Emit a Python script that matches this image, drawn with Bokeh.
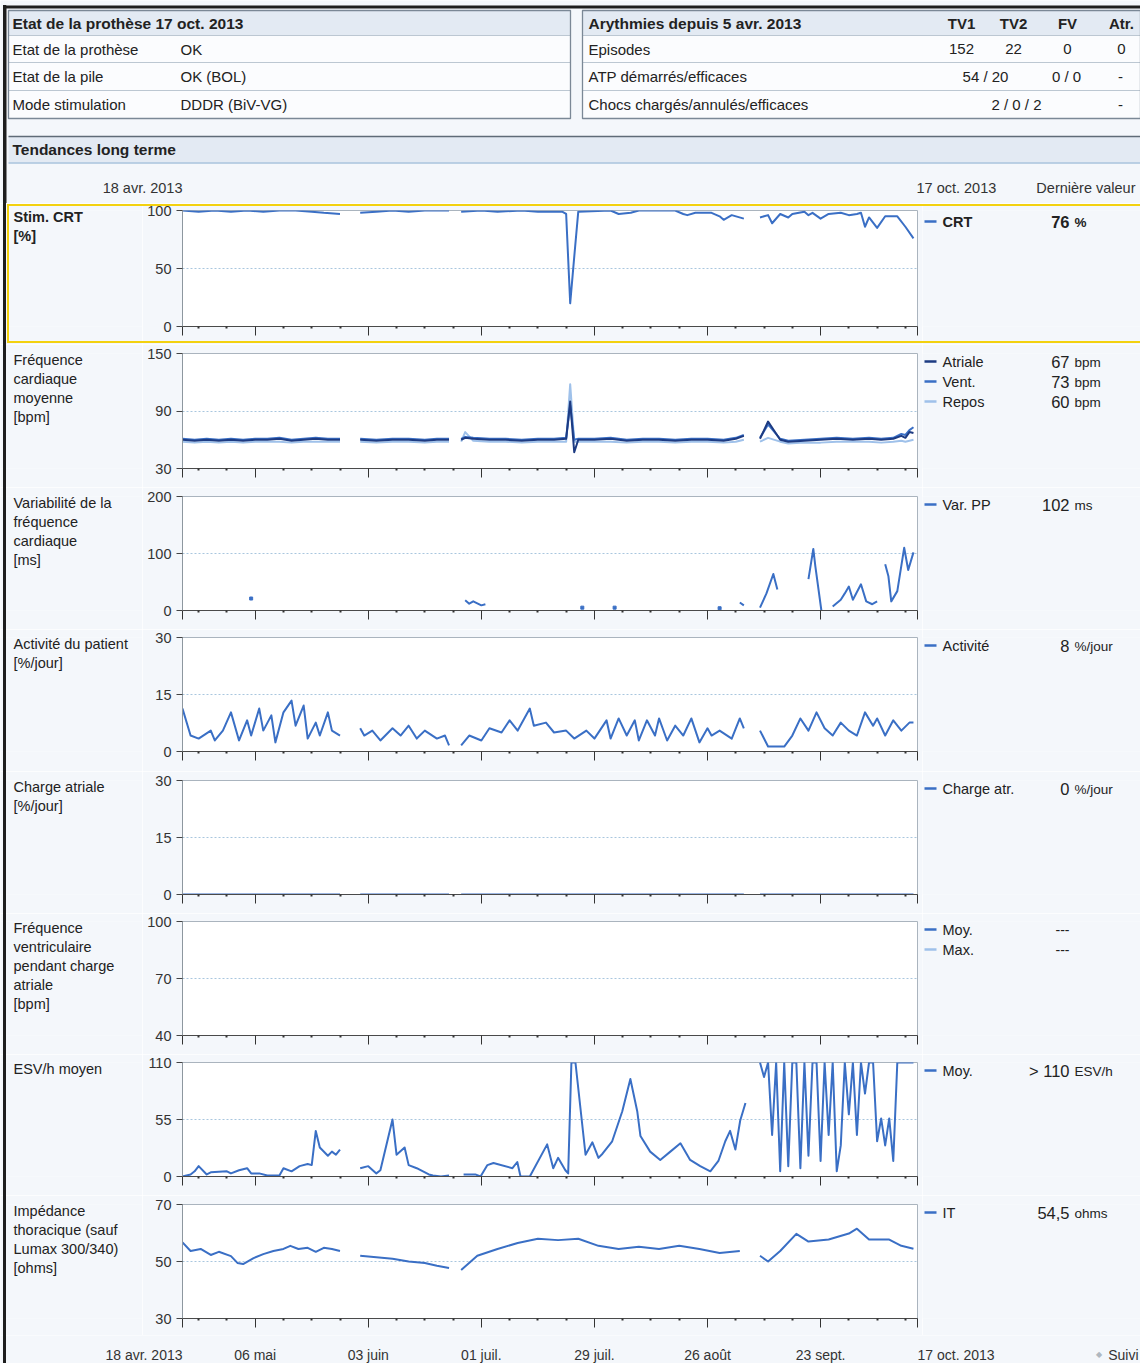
import math
from bokeh.plotting import figure
from bokeh.models import Range1d, FixedTicker, InlineStyleSheet
from bokeh.layouts import column, row
from bokeh.embed import file_html
from bokeh.resources import INLINE
from bokeh.core.properties import value

# ---------------------------------------------------------------- data
N_DAYS = 182                      # 18 avr. 2013 -> 17 oct. 2013
X_MAJOR_DAYS = [18, 46, 74, 102, 130, 158]
X_MAJOR_LABELS = ["06 mai", "03 juin", "01 juil.", "29 juil.", "26 août", "23 sept."]
X_START_LABEL = "18 avr. 2013"
X_END_LABEL = "17 oct. 2013"

PROSTH_TITLE = "Etat de la prothèse 17 oct. 2013"
PROSTH_KEYS = ["Etat de la prothèse", "Etat de la pile", "Mode stimulation"]
PROSTH_VALUES = ["OK", "OK (BOL)", "DDDR (BiV-VG)"]
ARR_TITLE = "Arythmies depuis 5 avr. 2013"
ARR_COLS = ["TV1", "TV2", "FV", "Atr."]
ARR_KEYS = ["Episodes", "ATP démarrés/efficaces", "Chocs chargés/annulés/efficaces"]
ARR_EPISODES = ["152", "22", "0", "0"]
ARR_ATP = ["54 / 20", "0 / 0", "-"]
ARR_SHOCKS = ["2 / 0 / 2", "-"]
SECTION_TITLE = "Tendances long terme"
LAST_VALUE_TITLE = "Dernière valeur"
NEXT_LABEL = "Suivi"

CRT_DAY = [0, 4, 8, 12, 16, 20, 24, 28, 32, 35, 39, None,
           44, 48, 52, 56, 60, 64, 66, None,
           69, 74, 78, 84, 88, 94, 95, 96, 97, 98, 106, 108, 111, 113, 122, 124, 125, 127, 131, 133, 134, 136, 139, None,
           143, 145, 146, 148, 150, 151, 154, 155, 156, 158, 160, 163, 165, 167, 168, 169, 170, 172, 174, 177, 179, 181]
CRT_VAL = [100, 99, 100, 99, 100, 99, 100, 100, 99, 98, 97, None,
           98, 99, 100, 99, 100, 100, 100, None,
           99, 100, 99, 100, 99, 99, 97, 20, 60, 99, 100, 97, 98, 100, 100, 97, 96, 98, 98, 95, 92, 96, 93, None,
           94, 96, 89, 97, 94, 97, 99, 96, 98, 93, 97, 98, 96, 97, 98, 86, 94, 85, 95, 95, 86, 76]

FREQ_DAY = [0, 3, 6, 9, 12, 15, 18, 21, 24, 27, 30, 33, 36, 39, None,
            44, 48, 52, 56, 60, 63, 66, None,
            69, 70, 72, 76, 80, 84, 88, 92, 95, 96, 97, 98, 102, 106, 110, 114, 118, 122, 126, 130, 134, 137, 139, None,
            143, 145, 148, 150, 154, 158, 162, 166, 170, 173, 176, 178, 179, 180, 181]
FREQ_ATRIALE = [60, 59, 60, 59, 60, 59, 60, 60, 61, 59, 60, 61, 60, 60, None,
                60, 59, 60, 60, 59, 60, 60, None,
                60, 62, 61, 60, 60, 59, 60, 60, 61, 100, 47, 60, 60, 61, 59, 60, 60, 59, 60, 60, 59, 61, 64, None,
                61, 79, 60, 58, 59, 60, 61, 60, 61, 60, 61, 64, 62, 68, 67]
FREQ_VENT = [61, 60, 61, 60, 61, 60, 61, 61, 62, 60, 61, 62, 61, 61, None,
             61, 60, 61, 61, 60, 61, 61, None,
             61, 63, 62, 61, 61, 60, 61, 61, 62, 96, 60, 61, 61, 62, 60, 61, 61, 60, 61, 61, 60, 62, 65, None,
             62, 76, 61, 59, 60, 61, 62, 61, 62, 61, 62, 66, 65, 70, 73]
FREQ_REPOS = [58, 57, 58, 57, 58, 57, 58, 58, 58, 57, 58, 58, 58, 58, None,
              58, 57, 58, 58, 57, 58, 58, None,
              58, 68, 59, 58, 58, 57, 58, 58, 58, 118, 58, 58, 58, 58, 57, 58, 58, 57, 58, 58, 57, 58, 60, None,
              58, 62, 58, 56, 57, 57, 58, 58, 58, 57, 58, 59, 58, 59, 60]

VAR_DAY = [17, None, 70, 71, 72, 74, 75, None, 99, None, 107, None, 133, None, 138, 139, None,
           143, 144.6, 146.3, 147.3, None, 155, 156.2, 156.7, 158.2, None,
           161, 163, 164, 165, 166, 168, 169.3, 170.8, 172, None,
           174, 174.8, 175.5, 177, 178.7, 179.7, 181]
VAR_VAL = [21, None, 18, 12, 16, 9, 11, None, 5, None, 5, None, 4, None, 14, 9, None,
           5, 30, 64, 37, None, 55, 108, 78, 0, None,
           7, 19, 30, 42, 19, 46, 16, 11, 16, None,
           81, 60, 16, 34, 110, 71, 102]

ACT_DAY = [0, 2, 4, 7, 8, 10, 12, 14, 16, 17, 19, 20, 22, 23, 25, 27, 28, 30, 31, 33, 34, 36, 37, 39, None,
           44, 45, 47, 49, 52, 54, 56, 58, 60, 63, 65, 66, None,
           69, 71, 74, 76, 79, 81, 83, 86, 87, 90, 92, 95, 97, 100, 102, 105, 106, 108, 110, 112, 113, 115, 117,
           118, 120, 122, 124, 126, 128, 130, 131, 133, 136, 138, 139, None,
           143, 145, 147, 149, 151, 153, 155, 157, 159, 161, 163, 165, 167, 169, 171, 172, 174, 176, 178, 180, 181]
ACT_VAL = [11.3, 4.2, 3.4, 5.5, 2.9, 5.5, 10.3, 2.9, 8.2, 4.2, 11.3, 5.5, 9.5, 2.4, 10.3, 13.4, 6.8, 12.1, 3.4,
           7.6, 4.2, 10.3, 5.5, 4.2, None,
           6.1, 4.2, 5.5, 2.9, 6.1, 4.2, 6.8, 3.4, 5.5, 3.4, 4.2, 1.6, None,
           1.6, 4.2, 2.9, 6.1, 5.0, 8.2, 5.5, 11.3, 6.8, 7.6, 5.0, 5.5, 3.4, 5.5, 3.4, 8.2, 3.4, 8.7, 4.2, 8.2, 2.9,
           8.2, 4.2, 8.7, 2.9, 6.8, 4.2, 8.7, 2.4, 6.1, 4.2, 5.5, 3.4, 8.7, 6.1, None,
           5.5, 1.3, 1.3, 1.3, 4.2, 8.7, 5.5, 10.3, 6.1, 4.2, 7.6, 5.5, 4.2, 10.3, 6.8, 8.7, 4.2, 8.2, 5.5, 7.6, 7.6]

CHARGE_DAY = [0, 39, None, 44, 66, None, 69, 139, None, 143, 181]
CHARGE_VAL = [0, 0, None, 0, 0, None, 0, 0, None, 0, 0]

FVC_DAY = []
FVC_MOY = []
FVC_MAX = []

ESV_DAY = [0, 2, 3, 4, 6, 7, 11, 12, 14, 16, 17, 19, 21, 24, 25, 27, 29, 31, 32, 33, 34, 36, 37, 38, 39, None,
           44, 46, 48, 49, 52, 53, 55, 56, 58, 61, 62, 64, 66, None,
           69.6, 72.5, 73.8, 75.5, 77, 81.7, 82.9, 83.7, 86, 90.3, 91.8, 93, 94.8, 95.5, 96.3, 97.3, 99.8, 101.5,
           103, 104, 106.4, 108.9, 110.9, 112.6, 113.4, 115.8, 118.3, 120.8, 123.3, 125.7, 128.2, 130.7, 132.7,
           134.4, 135.6, 136.9, 138.1, 139.4, None,
           143, 144, 145, 146, 147, 148, 149, 150, 151, 152, 153, 154, 155, 156, 157, 158, 159, 160, 161, 162,
           163, 164, 165, 166, 167, 168, 169, 170, 171, 172, 173, 174, 175, 176, 177, 178, 179, 180, 181]
ESV_VAL = [0, 2, 5, 10, 2, 4, 5, 3, 6, 8, 3, 3, 1, 1, 8, 5, 10, 12, 11, 44, 28, 20, 24, 21, 26, None,
           8, 10, 3, 6, 55, 21, 28, 11, 8, 2, 1, 0, 1, None,
           2, 2, 0, 11, 13, 8, 14, 0, 0, 31, 8, 18, 6, 3, 110, 110, 21, 33,
           18, 22, 34, 63, 94, 63, 39, 24, 16, 24, 32, 16, 10, 5, 15,
           34, 44, 26, 54, 71, None,
           110, 96, 110, 40, 110, 5, 110, 10, 110, 110, 8, 110, 20, 110, 110, 15, 110, 40, 110, 5,
           30, 110, 60, 110, 40, 110, 80, 110, 110, 34, 56, 30, 56, 15, 110, 110, 110, 110, 110]

IT_DAY = [0, 2, 4.5, 7, 9, 12, 13.6, 15, 17.6, 20, 22.5, 25, 26.7, 28.7, 31, 33, 35, 37, 39, None,
          44, 48, 52, 56, 60, 63, 66, None,
          69, 73, 78, 83, 88, 93, 98, 103, 108, 113, 118, 123, 128, 133, 138, None,
          143, 145, 148, 152, 155, 160, 165, 167, 170, 175, 178, 181]
IT_VAL = [56.7, 53.7, 54.4, 52.3, 53.4, 51.9, 49.5, 49.1, 51.2, 52.6, 53.7, 54.4, 55.5, 54.4, 54.8, 53.4, 54.8,
          54.4, 53.7, None,
          52, 51.5, 51, 50, 49.5, 48.5, 47.7, None,
          47, 52, 54.4, 56.5, 58, 57.5, 58, 55.5, 54.4, 55.2, 54.4, 55.5, 54.4, 53, 53.7, None,
          52, 50, 53.7, 59.7, 57, 57.7, 59.8, 61.5, 57.7, 57.7, 55.5, 54.5]

# ---------------------------------------------------------------- style / geometry
W = 1140
FONT = "Liberation Sans"
BG = "#f4f7fb"
HDR_FILL = "#e3eaf3"
ROW_FILL = "#fbfcfe"
TXT = "#222222"
BLUE = "#3a6fc5"
DARK = "#1d3b82"
LIGHT = "#9fc1ea"

TITLE_W = 142                 # page x 0..142
MAIN_BL, FRAME_W, MAIN_BR = 40, 735, 5
MAIN_W = MAIN_BL + FRAME_W + MAIN_BR   # page x 142..922
LEG_X0 = TITLE_W + MAIN_W               # 922
LEG_W = W - LEG_X0                      # 218
PXD = FRAME_W / N_DAYS                  # pixels per day
FRAME_X0 = TITLE_W + MAIN_BL            # 182

# (row height, top border, frame height) for each panel row
ROW_GEOM = [(141, 7, 116), (143, 9, 115), (142, 9, 114), (142, 8, 114),
            (142, 9, 114), (141, 8, 114), (141, 8, 114), (140, 9, 114)]
HEADER_H = 203
FOOTER_H = 28


def clean(v):
    return [float("nan") if x is None else x for x in v]


def blank_fig(width, height, xr, yr, bt=0, bb=0):
    f = figure(width=width, height=height, x_range=xr, y_range=yr,
               output_backend="svg", toolbar_location=None,
               min_border_left=0, min_border_right=0, min_border_top=bt, min_border_bottom=bb,
               x_axis_location=None, y_axis_location=None,
               background_fill_color=BG, border_fill_color=BG, outline_line_color=None)
    f.xgrid.visible = False
    f.ygrid.visible = False
    return f


def ftext(f, xs, ys, texts, size="15px", bold=False, align="left", color=TXT, baseline="middle", lh=1.2):
    f.text(x=xs, y=ys, text=texts, text_font=value(FONT), text_font_size=size,
           text_font_style="bold" if bold else "normal", text_align=align,
           text_baseline=baseline, text_color=color, text_line_height=lh)


def add_series(p, days, vals, color, width=2.0):
    assert len(days) == len(vals)
    if not days:
        return
    p.line(clean(days), clean(vals), line_color=color, line_width=width, line_join="round")
    xs, ys = [], []
    for i, v in enumerate(vals):
        if v is None:
            continue
        pn = i == 0 or vals[i - 1] is None
        nn = i == len(vals) - 1 or vals[i + 1] is None
        if pn and nn:
            xs.append(days[i])
            ys.append(v)
    if xs:
        p.scatter(xs, ys, marker="square", size=3, color=color)


# ---------------------------------------------------------------- header (page pixel coords)
hdr = blank_fig(W, HEADER_H, Range1d(0, W), Range1d(HEADER_H, 0))
hdr.quad(left=[3], right=[W], top=[5], bottom=[8], fill_color="#1e1e1e", line_color=None)
hdr.quad(left=[3], right=[6], top=[5], bottom=[HEADER_H], fill_color="#1e1e1e", line_color=None)

ROW_EDGES = [10, 35, 62, 90, 118]
for (x0, x1) in [(8, 570), (582, 1140)]:
    hdr.quad(left=[x0] * 4, right=[x1] * 4, top=ROW_EDGES[:-1], bottom=ROW_EDGES[1:],
             fill_color=[HDR_FILL, ROW_FILL, ROW_FILL, ROW_FILL], line_color="#bcc7d2", line_width=1)
    hdr.quad(left=[x0], right=[x1], top=[ROW_EDGES[0]], bottom=[ROW_EDGES[-1]],
             fill_color=None, line_color="#7b8896", line_width=1.3)
row_y = [(a + b) / 2 for a, b in zip(ROW_EDGES[:-1], ROW_EDGES[1:])]

ftext(hdr, [12], [row_y[0]], [PROSTH_TITLE], size="15.5px", bold=True)
ftext(hdr, [12] * 3, row_y[1:], PROSTH_KEYS)
ftext(hdr, [180] * 3, row_y[1:], PROSTH_VALUES)

COL_X = [961, 1013, 1067, 1121]
ftext(hdr, [588], [row_y[0]], [ARR_TITLE], size="15.5px", bold=True)
ftext(hdr, COL_X, [row_y[0]] * 4, ARR_COLS, size="15px", bold=True, align="center")
ftext(hdr, [588] * 3, row_y[1:], ARR_KEYS)
ftext(hdr, COL_X, [row_y[1]] * 4, ARR_EPISODES, align="center")
ftext(hdr, [985, 1066, 1120], [row_y[2]] * 3, ARR_ATP, align="center")
ftext(hdr, [1016, 1120], [row_y[3]] * 2, ARR_SHOCKS, align="center")

hdr.quad(left=[8], right=[W], top=[136], bottom=[162], fill_color=HDR_FILL, line_color=None)
hdr.segment(x0=[8], y0=[136], x1=[W], y1=[136], line_color="#5f6b77", line_width=1.5)
hdr.segment(x0=[8], y0=[162.5], x1=[W], y1=[162.5], line_color="#a9c3dc", line_width=1.5)
ftext(hdr, [12], [149], [SECTION_TITLE], size="15.5px", bold=True)
ftext(hdr, [182], [187], [X_START_LABEL], size="14.5px", align="right", color="#333333")
ftext(hdr, [916], [187], [X_END_LABEL], size="14.5px", align="left", color="#333333")
ftext(hdr, [1135], [187], [LAST_VALUE_TITLE], size="14.5px", align="right", color="#333333")

# ---------------------------------------------------------------- panels
PANELS = [
    dict(title="Stim. CRT\n[%]", bold=True, lo=0, hi=100,
         series=[(CRT_DAY, CRT_VAL, BLUE)],
         legend=[("CRT", "76", "%", BLUE)], leg_off=11),
    dict(title="Fréquence\ncardiaque\nmoyenne\n[bpm]", bold=False, lo=30, hi=150,
         series=[(FREQ_DAY, FREQ_REPOS, LIGHT), (FREQ_DAY, FREQ_VENT, BLUE), (FREQ_DAY, FREQ_ATRIALE, DARK)],
         legend=[("Atriale", "67", "bpm", DARK), ("Vent.", "73", "bpm", BLUE), ("Repos", "60", "bpm", LIGHT)]),
    dict(title="Variabilité de la\nfréquence\ncardiaque\n[ms]", bold=False, lo=0, hi=200,
         series=[(VAR_DAY, VAR_VAL, BLUE)],
         legend=[("Var. PP", "102", "ms", BLUE)]),
    dict(title="Activité du patient\n[%/jour]", bold=False, lo=0, hi=30,
         series=[(ACT_DAY, ACT_VAL, BLUE)],
         legend=[("Activité", "8", "%/jour", BLUE)]),
    dict(title="Charge atriale\n[%/jour]", bold=False, lo=0, hi=30,
         series=[(CHARGE_DAY, CHARGE_VAL, BLUE)],
         legend=[("Charge atr.", "0", "%/jour", BLUE)]),
    dict(title="Fréquence\nventriculaire\npendant charge\natriale\n[bpm]", bold=False, lo=40, hi=100,
         series=[(FVC_DAY, FVC_MAX, LIGHT), (FVC_DAY, FVC_MOY, BLUE)],
         legend=[("Moy.", "---", "", BLUE), ("Max.", "---", "", LIGHT)]),
    dict(title="ESV/h moyen", bold=False, lo=0, hi=110,
         series=[(ESV_DAY, ESV_VAL, BLUE)],
         legend=[("Moy.", "> 110", "ESV/h", BLUE)]),
    dict(title="Impédance\nthoracique (sauf\nLumax 300/340)\n[ohms]", bold=False, lo=30, hi=70,
         series=[(IT_DAY, IT_VAL, BLUE)],
         legend=[("IT", "54,5", "ohms", BLUE)]),
]

MINOR_DAYS = [d for d in range(4, N_DAYS, 7) if d not in X_MAJOR_DAYS]

YELLOW_CSS = InlineStyleSheet(css="""
:host { position: relative; }
:host::after { content: ""; position: absolute; left: 7px; top: 1px; right: 0px; height: 139px;
  border: 2px solid #f3d10f; border-right: none; box-sizing: border-box; pointer-events: none; z-index: 5; }
""")
DARK_CSS = InlineStyleSheet(css="""
:host { position: relative; }
:host::before { content: ""; position: absolute; left: 3px; top: 5px; width: 3px; bottom: 0px;
  background: #1e1e1e; pointer-events: none; z-index: 6; }
""")

rows = []
for k, (cfg, (h, bt, fh)) in enumerate(zip(PANELS, ROW_GEOM)):
    bb = h - bt - fh
    yr_px = Range1d(bt + fh, bt)

    # left title
    t = blank_fig(TITLE_W, h, Range1d(0, TITLE_W), yr_px, bt, bb)
    ftext(t, [13], [bt - 2], [cfg["title"]], size="14.5px", bold=cfg["bold"], baseline="top", lh=1.2)

    # main plot
    p = figure(width=MAIN_W, height=h,
               x_range=Range1d(0, N_DAYS), y_range=Range1d(cfg["lo"], cfg["hi"]),
               output_backend="svg", toolbar_location=None,
               min_border_left=MAIN_BL, min_border_right=MAIN_BR,
               min_border_top=bt, min_border_bottom=bb,
               background_fill_color="white", border_fill_color=BG,
               outline_line_color="#aab4be", outline_line_width=1)
    mid = (cfg["lo"] + cfg["hi"]) / 2
    p.yaxis.ticker = FixedTicker(ticks=[cfg["lo"], mid, cfg["hi"]])
    p.yaxis.major_label_overrides = {mid: str(int(mid))}
    p.yaxis.major_tick_out = 6
    p.yaxis.major_tick_in = 0
    p.yaxis.minor_tick_line_color = None
    p.yaxis.axis_line_color = "#8d979f"
    p.yaxis.major_tick_line_color = "#444444"
    p.yaxis.major_label_text_font = FONT
    p.yaxis.major_label_text_font_size = "14.5px"
    p.yaxis.major_label_text_color = "#333333"
    p.yaxis.major_label_standoff = 5
    p.xaxis.ticker = FixedTicker(ticks=[0] + X_MAJOR_DAYS + [N_DAYS], minor_ticks=MINOR_DAYS)
    p.xaxis.axis_line_color = "#4a4a4a"
    p.xaxis.major_tick_line_color = "#333333"
    p.xaxis.major_tick_out = 9
    p.xaxis.major_tick_in = 0
    p.xaxis.minor_tick_line_color = "#333333"
    p.xaxis.minor_tick_line_width = 2
    p.xaxis.minor_tick_out = 2
    p.xaxis.minor_tick_in = 0
    p.xaxis.major_label_text_font_size = "0px"
    p.xaxis.major_label_standoff = 0
    p.xaxis.major_label_overrides = {d: "" for d in [0] + X_MAJOR_DAYS + [N_DAYS]}
    p.xgrid.visible = False
    p.ygrid.ticker = FixedTicker(ticks=[mid])
    p.ygrid.grid_line_color = "#a9c6de"
    p.ygrid.grid_line_dash = "2 2"
    for days, vals, color in cfg["series"]:
        add_series(p, days, vals, color)

    # legend + last value (page x coords)
    lg = blank_fig(LEG_W, h, Range1d(LEG_X0, W), yr_px, bt, bb)
    y0 = bt + cfg.get("leg_off", 8)
    for i, (name, num, unit, color) in enumerate(cfg["legend"]):
        y = y0 + 20 * i
        lg.segment(x0=[924], y0=[y], x1=[936], y1=[y], line_color=color, line_width=2.5)
        ftext(lg, [942], [y], [name], size="14.5px", bold=cfg["bold"])
        if unit:
            ftext(lg, [1069], [y], [num], size="16.5px", bold=cfg["bold"], align="right")
            ftext(lg, [1074], [y + 1], [unit], size="13.5px", bold=cfg["bold"])
        else:
            ftext(lg, [1062], [y], [num], size="14px", align="center")

    kw = {"stylesheets": [YELLOW_CSS]} if k == 0 else {}
    rows.append(row(t, p, lg, spacing=0, **kw))

# ---------------------------------------------------------------- footer: date labels on the day scale
foot = blank_fig(W, FOOTER_H, Range1d(-FRAME_X0 / PXD, (W - FRAME_X0) / PXD), Range1d(FOOTER_H, 0))
ftext(foot, X_MAJOR_DAYS, [19] * len(X_MAJOR_DAYS), X_MAJOR_LABELS, size="14px", align="center", color="#333333")
ftext(foot, [0], [19], [X_START_LABEL], size="14px", align="right", color="#333333")
ftext(foot, [N_DAYS], [19], [X_END_LABEL], size="14px", align="left", color="#333333")
ftext(foot, [(1138 - FRAME_X0) / PXD], [19], [NEXT_LABEL], size="14px", align="right", color="#333333")
ftext(foot, [(1098 - FRAME_X0) / PXD], [19], ["◆"], size="8px", align="center", color="#b0b8c0")

page = column(hdr, *rows, foot, spacing=0, stylesheets=[DARK_CSS])
open("out.html", "w").write(file_html(page, INLINE))
